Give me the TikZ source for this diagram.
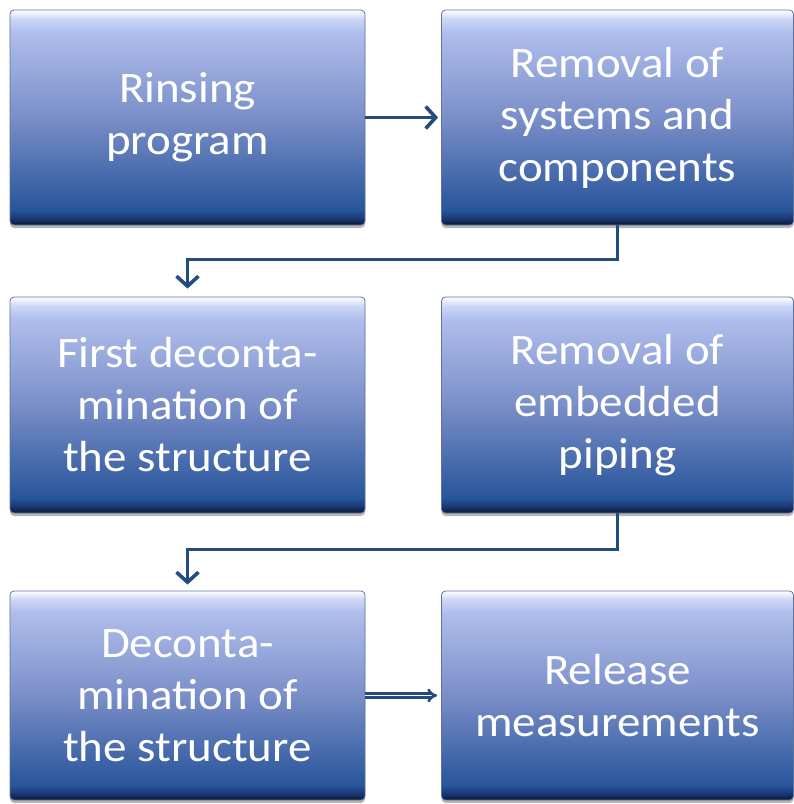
\documentclass[tikz,border=0pt]{standalone}
\usepackage{fontspec}
\setmainfont{Carlito}[FakeStretch=1.08]
\usetikzlibrary{arrows.meta,shadows}
\definecolor{arrowblue}{RGB}{35,75,130}
\definecolor{bxnavy}{RGB}{12,22,55}
\definecolor{bxdark}{RGB}{25,55,115}
\definecolor{bxbot}{RGB}{40,85,155}
\definecolor{bxmid}{RGB}{122,142,200}
\definecolor{bxtop}{RGB}{176,190,236}
\definecolor{bxhi}{RGB}{205,215,246}
\pgfdeclareverticalshading{boxshade}{100bp}{color(0bp)=(bxnavy); color(25bp)=(bxnavy); color(26.5bp)=(bxdark); color(28.5bp)=(bxbot); color(50bp)=(bxmid); color(70bp)=(bxtop); color(73bp)=(bxhi); color(75bp)=(white); color(100bp)=(white)}
\tikzset{
  stepbox/.style={rectangle, rounded corners=4pt, shading=boxshade,
    draw=bxdark!70, line width=0.8pt,
    drop shadow={shadow xshift=0pt, shadow yshift=-3pt, opacity=0.4, fill=black!70},
    text=white, align=center, inner sep=0pt,
    font=\fontsize{43.5}{52}\selectfont},
  arr/.style={draw=arrowblue, line width=3.4pt,
    -{Straight Barb[length=10pt,width=22pt,line width=3.6pt]}},
  darr/.style={draw=arrowblue, double=white, line width=2.6pt, double distance=1.6pt,
    -{Implies[length=12pt,width=22pt]}}
}
\begin{document}
\begin{tikzpicture}[x=1pt,y=1pt]
\useasboundingbox (0,0) rectangle (794,-804);
\node[stepbox, minimum width=355pt, minimum height=215pt] (b1) at (187.5,-117.5) {Rinsing\\program};
\node[stepbox, minimum width=352pt, minimum height=215pt] (b2) at (617.5,-117.5) {Removal of\\systems and\\components};
\node[stepbox, minimum width=355pt, minimum height=216pt] (b3) at (187.5,-405) {First deconta-\\mination of\\the structure};
\node[stepbox, minimum width=352pt, minimum height=216pt] (b4) at (617.5,-405) {Removal of\\embedded\\piping};
\node[stepbox, minimum width=355pt, minimum height=209pt] (b5) at (187.5,-695.5) {Deconta-\\mination of\\the structure};
\node[stepbox, minimum width=352pt, minimum height=209pt] (b6) at (617.5,-695.5) {Release\\measurements};
\draw[arr] (b1.east) -- ([xshift=-3pt]b2.west);
\draw[arr] (b2.south) -- ++(0,-34) -| ([yshift=8pt]b3.north);
\draw[arr] (b4.south) -- ++(0,-36) -| ([yshift=6pt]b5.north);
\draw[darr] (b5.east) -- ([xshift=-4pt]b6.west);
\end{tikzpicture}
\end{document}
